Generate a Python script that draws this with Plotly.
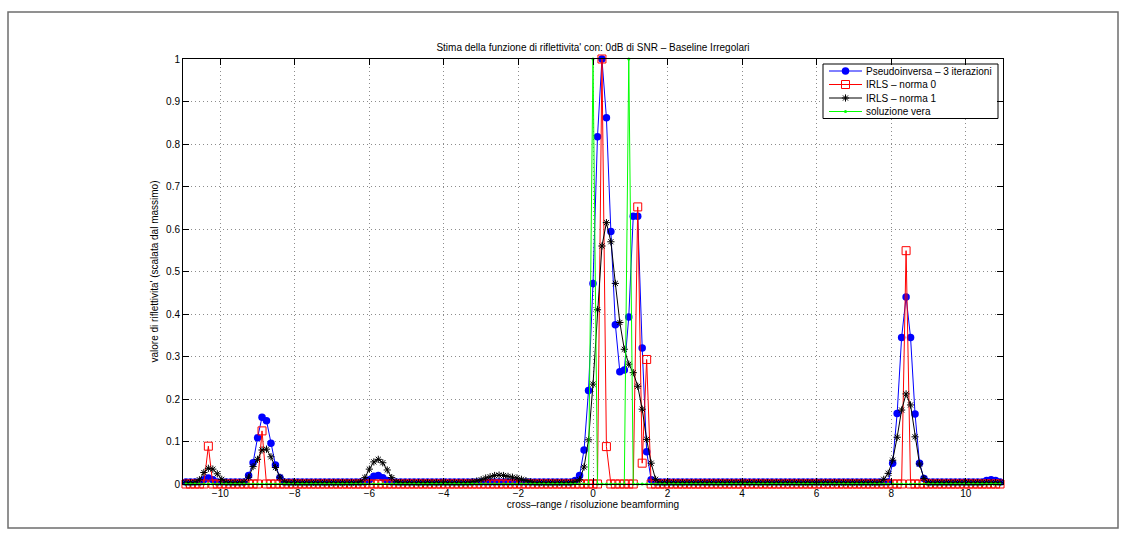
import numpy as np
import plotly.graph_objects as go

# ---------------------------------------------------------------------------
# Cross-range sampling grid (units of beamforming resolution)
# ---------------------------------------------------------------------------
STEP = 0.12
K_MIN, K_MAX = -91, 91
k_idx = np.arange(K_MIN, K_MAX + 1)
x_cross = np.round(k_idx * STEP, 2)

# Each series: a baseline level plus runs of (first sample index, values)
pinv_base = 0.005
pinv_runs = [
    (-87, [0.01, 0.014, 0.01]),
    (-77, [0.02, 0.05, 0.109, 0.157, 0.149, 0.096, 0.045, 0.015]),
    (-50, [0.01, 0.018, 0.02, 0.015, 0.008]),
    (-4, [0.008, 0.02, 0.08, 0.22, 0.472, 0.817, 1.0, 0.862, 0.594, 0.375,
          0.264, 0.268, 0.393, 0.63, 0.63, 0.32, 0.076, 0.01]),
    (67, [0.049, 0.166, 0.345, 0.44, 0.345, 0.165, 0.049, 0.013]),
    (88, [0.008, 0.01, 0.008]),
]

irls0_base = 0.0
irls0_runs = [
    (-86, [0.089]),
    (-74, [0.125]),
    (2, [1.0, 0.088]),
    (10, [0.652, 0.049, 0.293]),
    (70, [0.549]),
]

irls1_base = 0.003
irls1_runs = [
    (-89, [0.004, 0.01, 0.027, 0.037, 0.035, 0.024, 0.011, 0.004]),
    (-78, [0.005, 0.016, 0.041, 0.058, 0.08, 0.082, 0.064, 0.039, 0.016, 0.005]),
    (-52, [0.005, 0.015, 0.035, 0.052, 0.058, 0.05, 0.033, 0.015, 0.005]),
    (-27, [0.005, 0.007, 0.01, 0.014, 0.017, 0.02, 0.021, 0.02, 0.018, 0.016,
           0.014, 0.011, 0.008, 0.005]),
    (-4, [0.005, 0.01, 0.04, 0.104, 0.235, 0.41, 0.56, 0.615, 0.57, 0.472,
          0.38, 0.317, 0.282, 0.262, 0.23, 0.176, 0.105, 0.049, 0.011]),
    (65, [0.011, 0.025, 0.056, 0.11, 0.174, 0.212, 0.186, 0.111, 0.047, 0.013]),
]

true_base = 0.0
true_runs = [
    (0, [1.0]),
    (8, [1.0]),
]

x_ticks = [-10, -8, -6, -4, -2, 0, 2, 4, 6, 8, 10]
y_ticks = [0, 0.1, 0.2, 0.3, 0.4, 0.5, 0.6, 0.7, 0.8, 0.9, 1]

names = ["Pseudoinversa \u2013 3 iterazioni", "IRLS \u2013 norma 0",
         "IRLS \u2013 norma 1", "soluzione vera"]


def series(base, runs):
    y = np.full(k_idx.size, base, dtype=float)
    for start, vals in runs:
        i0 = start - K_MIN
        y[i0:i0 + len(vals)] = vals
    return y


y_pinv = series(pinv_base, pinv_runs)
y_irls0 = series(irls0_base, irls0_runs)
y_irls1 = series(irls1_base, irls1_runs)
y_true = series(true_base, true_runs)

# ---------------------------------------------------------------------------
# Styles (MATLAB-like)
# ---------------------------------------------------------------------------
FONT = "Liberation Sans, Arial, Helvetica, sans-serif"
styles = [
    dict(line=dict(color="#0000ff", width=1),
         marker=dict(symbol="circle", size=7.5, color="#0000ff",
                     line=dict(width=0))),
    dict(line=dict(color="#ff0000", width=1),
         marker=dict(symbol="square-open", size=8, color="#ff0000",
                     line=dict(width=1, color="#ff0000"))),
    dict(line=dict(color="#000000", width=1),
         marker=dict(symbol="asterisk-open", size=6, color="#000000",
                     line=dict(width=1, color="#000000"))),
    dict(line=dict(color="#00ff00", width=1),
         marker=dict(symbol="circle", size=3, color="#00ff00",
                     line=dict(width=0))),
]

fig = go.Figure()
for name, yv, st in zip(names, [y_pinv, y_irls0, y_irls1, y_true], styles):
    fig.add_trace(go.Scatter(x=x_cross, y=yv, mode="lines+markers", name=name,
                             line=st["line"], marker=st["marker"],
                             cliponaxis=False, showlegend=False))

# ---------------------------------------------------------------------------
# Axes geometry (pixels) and helpers for placing the legend box
# ---------------------------------------------------------------------------
W, H = 1133, 544
PX_L, PX_R, PX_T, PX_B = 183, 1003, 59, 484
X_RANGE = [-11, 11]
Y_RANGE = [0, 1]


def px2x(px):
    return X_RANGE[0] + (px - PX_L) / (PX_R - PX_L) * (X_RANGE[1] - X_RANGE[0])


def py2y(py):
    return Y_RANGE[0] + (PX_B - py) / (PX_B - PX_T) * (Y_RANGE[1] - Y_RANGE[0])


def px2paper(px):
    return (px - PX_L) / (PX_R - PX_L)


def py2paper(py):
    return (PX_B - py) / (PX_B - PX_T)


# Legend box
LB_L, LB_T, LB_R, LB_B = 823, 64, 998, 118.5
LEG_ROWS = [71, 84.5, 98, 111.5]
SAMPLE_X0, SAMPLE_X1, TEXT_X = 829, 862, 864

fig.add_trace(go.Scatter(
    x=[px2x(LB_L), px2x(LB_R), px2x(LB_R), px2x(LB_L), px2x(LB_L)],
    y=[py2y(LB_T), py2y(LB_T), py2y(LB_B), py2y(LB_B), py2y(LB_T)],
    mode="lines", fill="toself", fillcolor="white",
    line=dict(color="black", width=1), hoverinfo="skip", showlegend=False))

annotations = []
for name, row, st in zip(names, LEG_ROWS, styles):
    fig.add_trace(go.Scatter(
        x=[px2x(SAMPLE_X0), px2x(SAMPLE_X1)], y=[py2y(row), py2y(row)],
        mode="lines", line=st["line"], hoverinfo="skip", showlegend=False))
    fig.add_trace(go.Scatter(
        x=[px2x((SAMPLE_X0 + SAMPLE_X1) / 2)], y=[py2y(row)],
        mode="markers", marker=st["marker"], hoverinfo="skip",
        showlegend=False))
    annotations.append(dict(
        x=px2x(TEXT_X), y=py2y(row), xref="x", yref="y", text=name,
        showarrow=False, xanchor="left", yanchor="middle",
        font=dict(family=FONT, size=10, color="black")))

axis_common = dict(
    showline=True, linecolor="black", linewidth=1, mirror="allticks",
    ticks="inside", ticklen=6, tickwidth=1, tickcolor="black",
    showgrid=True, gridcolor="#8c8c8c", gridwidth=1, griddash="1px,3px",
    zeroline=False, tickfont=dict(family=FONT, size=10, color="black"),
)

fig.update_layout(
    width=W, height=H,
    margin=dict(l=PX_L, r=W - PX_R, t=PX_T, b=H - PX_B, autoexpand=False),
    paper_bgcolor="white", plot_bgcolor="white",
    font=dict(family=FONT, size=10, color="black"),
    showlegend=False,
    title=dict(
        text="Stima della funzione di riflettivita' con: 0dB di SNR \u2013 Baseline Irregolari",
        x=0.5, xref="paper", xanchor="center",
        y=1 - 47 / H, yref="container", yanchor="middle",
        font=dict(family=FONT, size=10, color="black")),
    xaxis=dict(range=X_RANGE, tickvals=x_ticks,
               title=dict(text="cross\u2013range / risoluzione beamforming",
                          font=dict(family=FONT, size=10, color="black"),
                          standoff=2),
               **axis_common),
    yaxis=dict(range=Y_RANGE, tickvals=y_ticks,
               ticktext=[f"{v:g}" for v in y_ticks],
               title=dict(text="valore di riflettivita' (scalata dal massimo)",
                          font=dict(family=FONT, size=10, color="black"),
                          standoff=5),
               **axis_common),
    annotations=annotations,
    shapes=[dict(type="rect", xref="paper", yref="paper",
                 x0=px2paper(8), x1=px2paper(1118),
                 y0=py2paper(528), y1=py2paper(12),
                 line=dict(color="#6e6e6e", width=1.5),
                 fillcolor="rgba(0,0,0,0)", layer="below")],
)

fig.write_html("out.html")
